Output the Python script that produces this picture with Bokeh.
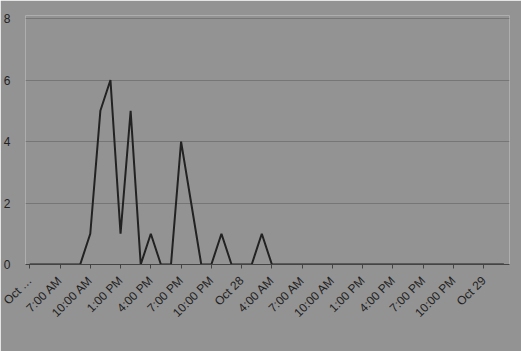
import math
from bokeh.plotting import figure
from bokeh.models import Range1d, FixedTicker
from bokeh.embed import file_html
from bokeh.resources import INLINE

# hourly counts starting Oct 27, 4:00 AM
hours = list(range(48))
counts = [0, 0, 0, 0, 0, 0, 1, 5, 6, 1, 5, 0, 1, 0, 0, 4, 2, 0, 0, 1, 0, 0, 0, 1, 0,
          0, 0, 0, 0, 0, 0, 0, 0, 0, 0, 0, 0, 0, 0, 0, 0, 0, 0, 0, 0, 0, 0, 0]
tick_hours = list(range(0, 48, 3))
tick_labels = ["Oct \u2026", "7:00 AM", "10:00 AM", "1:00 PM", "4:00 PM", "7:00 PM",
               "10:00 PM", "Oct 28", "4:00 AM", "7:00 AM", "10:00 AM", "1:00 PM",
               "4:00 PM", "7:00 PM", "10:00 PM", "Oct 29"]
y_ticks = [0, 2, 4, 6, 8]

BG = "#939393"
p = figure(width=521, height=351, output_backend="svg", toolbar_location=None,
           x_range=Range1d(-0.42, 47.55), y_range=Range1d(0, 8.1),
           min_border_left=24, min_border_right=12, min_border_top=15, min_border_bottom=87)
p.background_fill_color = BG
p.border_fill_color = BG
p.outline_line_color = None

p.line(hours, counts, line_color="#222222", line_width=2)

p.xgrid.visible = False
p.ygrid.ticker = FixedTicker(ticks=y_ticks)
p.ygrid.grid_line_color = "#767676"
p.ygrid.grid_line_width = 1

p.yaxis.ticker = FixedTicker(ticks=y_ticks)
p.yaxis.axis_line_color = None
p.yaxis.major_tick_line_color = None
p.yaxis.minor_tick_line_color = None
p.yaxis.major_label_text_color = "#222222"
p.yaxis.major_label_text_font = "Liberation Sans"
p.yaxis.major_label_text_font_size = "12px"
p.yaxis.major_label_standoff = 9

p.xaxis.ticker = FixedTicker(ticks=tick_hours)
p.xaxis.major_label_overrides = {h: l for h, l in zip(tick_hours, tick_labels)}
p.xaxis.major_label_orientation = math.pi / 4
p.xaxis.axis_line_color = "#444444"
p.xaxis.axis_line_width = 1
p.xaxis.major_tick_line_color = "#444444"
p.xaxis.major_tick_in = 0
p.xaxis.major_tick_out = 4
p.xaxis.minor_tick_line_color = None
p.xaxis.major_label_text_color = "#222222"
p.xaxis.major_label_text_font = "Liberation Sans"
p.xaxis.major_label_text_font_size = "12px"
p.xaxis.major_label_standoff = 10

open("out.html", "w").write(file_html(p, INLINE))
